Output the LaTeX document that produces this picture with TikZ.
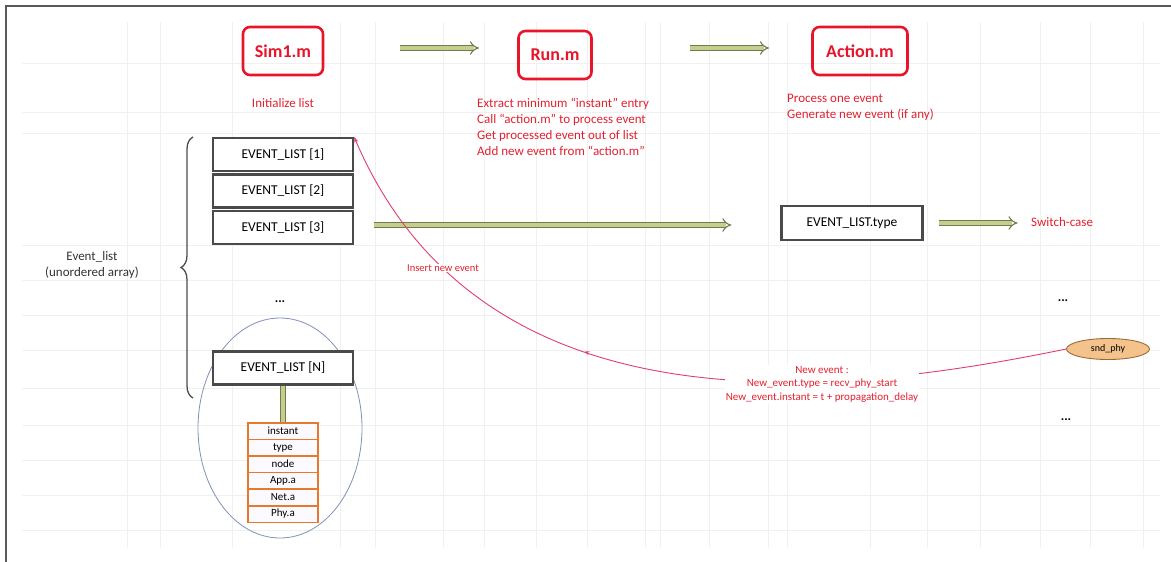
\documentclass[tikz,border=0pt]{standalone}
\usepackage{fontspec}
\setmainfont{Carlito}
\usetikzlibrary{arrows.meta,decorations.markings,decorations.pathreplacing,shapes.geometric}
\definecolor{boxred}{HTML}{E8142A}
\definecolor{txtred}{HTML}{E2202F}
\definecolor{curvered}{HTML}{DF3E6E}
\definecolor{olivefill}{HTML}{C6CE8C}
\definecolor{olivedraw}{HTML}{767850}
\definecolor{evborder}{HTML}{4A4A4A}
\definecolor{fieldorange}{HTML}{E9782E}
\definecolor{ellblue}{HTML}{8090B4}
\definecolor{ovalfill}{HTML}{F4C38C}
\definecolor{ovaldraw}{HTML}{9C6A38}
\tikzset{
  gridline/.style={black!6, line width=1pt},
  filebox/.style={draw=boxred, line width=2.6pt, rounded corners=7pt, text=boxred,
    font=\bfseries\fontsize{18}{20}\selectfont, inner sep=0pt},
  redtext/.style={text=txtred, font=\fontsize{13}{16}\selectfont, inner sep=1pt},
  olivearrow/.style={draw=olivedraw, line width=1.1pt, double=olivefill, double distance=3.6pt,
    -{Implies[length=5pt]}},
  olivestem/.style={draw=olivedraw, line width=1.1pt, double=olivefill, double distance=3.6pt},
  evbox/.style={draw=evborder, line width=2.2pt, fill=white, minimum width=140pt,
    minimum height=33pt, inner sep=0pt, font=\fontsize{13.5}{15}\selectfont},
  fieldbox/.style={draw=fieldorange, line width=1.6pt, fill=blue!2, minimum width=70pt,
    minimum height=16.6pt, inner sep=0pt, font=\fontsize{11}{12}\selectfont},
  dotsnode/.style={font=\bfseries\fontsize{13}{14}\selectfont, inner sep=0pt},
  redcurve/.style={curvered, line width=0.9pt, -{Stealth[length=6pt,width=4pt]},
    postaction={decorate}, decoration={markings,
      mark=at position 0.6 with {\arrow{Stealth[length=5pt,width=4pt]}}}},
}
\begin{document}
\begin{tikzpicture}[x=1pt,y=-1pt]
\useasboundingbox (0,0) rectangle (1171,562);
% faint spreadsheet grid
\foreach \gx in {127,160,232,340,375,443,484,536,587,645,660,709,768,787,870,927,980,1040,1090,1143}
  \draw[gridline] (\gx,22) -- (\gx,548);
\foreach \gy in {63,112,133,245,280,315,350,388,425,460,495,530}
  \draw[gridline] (22,\gy) -- (1160,\gy);
% frame
\draw[line width=1.2pt, black!65] (6,562) -- (6,6) -- (1171,6);

% top row
\node[filebox, minimum width=80pt, minimum height=48pt] (sim) at (283,51) {Sim1.m};
\node[filebox, minimum width=73pt, minimum height=48pt] (run) at (555,55) {Run.m};
\node[filebox, minimum width=95pt, minimum height=48pt] (act) at (860,51) {Action.m};
\coordinate (a1s) at (400,48);
\coordinate (a1e) at (479,48);
\coordinate (a2s) at (690,48);
\coordinate (a2e) at (769,48);
\draw[olivearrow] (a1s) -- (a1e);
\draw[olivearrow] (a2s) -- (a2e);

\node[redtext] (init) at (283,103) {Initialize list};
\node[redtext, align=left, anchor=north west] (runtxt) at (476,97)
  {Extract minimum ``instant'' entry\\Call ``action.m'' to process event\\Get processed event out of list\\Add new event from ``action.m''};
\node[redtext, align=left, anchor=north west] (acttxt) at (786,93)
  {Process one event\\Generate new event (if any)};

% event list
\node[evbox] (ev1) at (283,154.5) {EVENT\_LIST [1]};
\node[evbox] (ev2) at (283,191) {EVENT\_LIST [2]};
\node[evbox] (ev3) at (283,227.5) {EVENT\_LIST [3]};
\node[dotsnode] (dots1) at (280,302) {...};
\node[ellipse, draw=ellblue, line width=0.8pt, minimum width=164pt, minimum height=220pt] (ell) at (280,428) {};
\node[evbox] (evN) at (283,368) {EVENT\_LIST [N]};

\draw[decorate, decoration={brace, amplitude=12pt}, line width=1.3pt, black!70]
  (193,398) -- (193,137);
\node[align=center, font=\fontsize{13}{16}\selectfont, text=black!80] (elab) at (92,265)
  {Event\_list\\(unordered array)};

% fields
\node[fieldbox] (f1) at (283,431) {instant};
\node[fieldbox] (f2) at (283,447.6) {type};
\node[fieldbox] (f3) at (283,464.2) {node};
\node[fieldbox] (f4) at (283,480.8) {App.a};
\node[fieldbox] (f5) at (283,497.4) {Net.a};
\node[fieldbox] (f6) at (283,514) {Phy.a};
\draw[olivestem] (evN.south) -- (f1.north);

% type dispatch
\node[evbox, minimum width=141pt, minimum height=34pt] (evt) at (852,223) {EVENT\_LIST.type};
\draw[olivearrow] ([xshift=20pt,yshift=2.5pt]ev3.east) -- ([xshift=-49pt,yshift=-2pt]evt.west);
\draw[olivearrow] ([xshift=15pt]evt.east) -- ([xshift=94pt]evt.east);
\node[redtext, anchor=west] (sw) at (1030,222) {Switch-case};
\node[dotsnode] (dots2) at (1063,301) {...};
\node[dotsnode] (dots3) at (1066,420) {...};

% new event feedback
\node[ellipse, draw=ovaldraw, fill=ovalfill, line width=0.9pt, minimum width=83pt,
  minimum height=21pt, inner sep=0pt, font=\fontsize{10}{11}\selectfont] (snd) at (1108,349) {snd\_phy};
\draw[redcurve] (snd.west) .. controls (820,400) and (480,430) .. (ev1.north east);
\node[fill=white, text=txtred, align=center, inner sep=1pt,
  font=\fontsize{11}{13.5}\selectfont] (newlab) at (822,384)
  {New event :\\New\_event.type = recv\_phy\_start\\New\_event.instant = t + propagation\_delay};
\node[fill=white, text=txtred, inner sep=1pt, font=\fontsize{10.5}{12}\selectfont] (inslab) at (443,268) {Insert new event};
\end{tikzpicture}
\end{document}
